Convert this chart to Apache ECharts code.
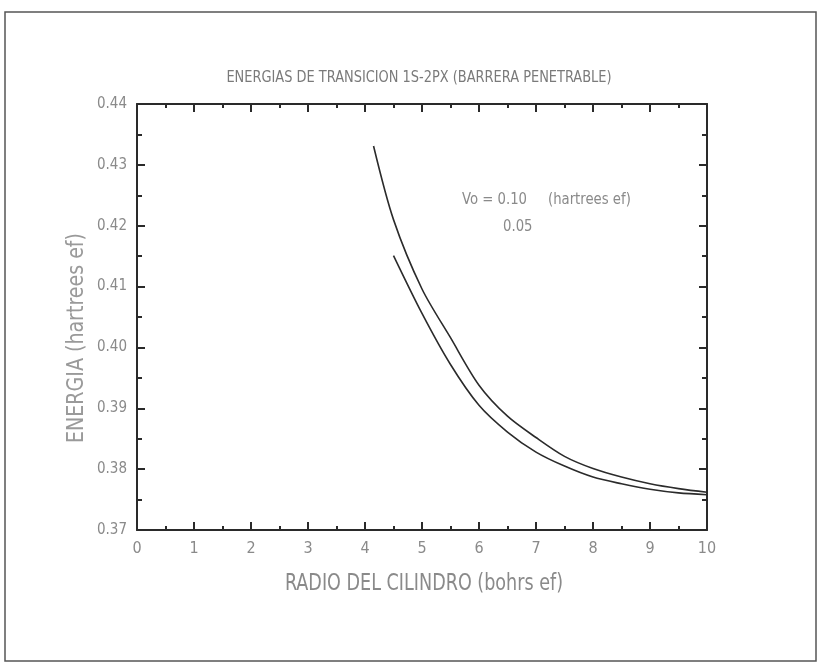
<!DOCTYPE html>
<html>
<head>
<meta charset="utf-8">
<script src="https://cdn.jsdelivr.net/npm/echarts@6/dist/echarts.min.js"></script>
<style>
  html, body { margin: 0; padding: 0; background: #fff; }
  #chart { width: 818px; height: 664px; }
</style>
</head>
<body>
<div id="chart"></div>
<script>
// radio del cilindro (bohrs ef) vs energia de transicion (hartrees ef)
var radioV010 = [4.15, 4.5, 5, 5.5, 6, 6.5, 7, 7.5, 8, 8.5, 9, 9.5, 10];
var energiaV010 = [0.4331, 0.4210, 0.4096, 0.4016, 0.3938, 0.3887, 0.3852, 0.3821, 0.3801, 0.3787, 0.3776, 0.3768, 0.3762];
var radioV005 = [4.5, 5, 5.5, 6, 6.5, 7, 7.5, 8, 8.5, 9, 9.5, 10];
var energiaV005 = [0.4151, 0.4056, 0.3972, 0.3905, 0.3861, 0.3828, 0.3805, 0.3787, 0.3776, 0.3767, 0.3761, 0.3758];

var FONT = "'Liberation Sans Narrow', 'DejaVu Sans Condensed', sans-serif";
var TXT = '#8a8a8a';
var AXIS = '#2a2a2a';

function pares(xs, ys) {
    var out = [];
    for (var i = 0; i < xs.length; i++) {
        out.push([xs[i], ys[i]]);
    }
    return out;
}

var myChart = echarts.init(document.getElementById('chart'));

// ejes con marcas hacia dentro en los cuatro lados
function ejeX(pos, labels) {
    return {
        type: 'value', position: pos, min: 0, max: 10, interval: 1,
        axisLine: { show: true, onZero: false, lineStyle: { color: AXIS, width: 2 } },
        axisTick: { show: true, inside: true, length: 8, lineStyle: { color: AXIS, width: 2 } },
        minorTick: { show: true, splitNumber: 2, length: 4, lineStyle: { color: AXIS, width: 2 } },
        splitLine: { show: false },
        axisLabel: { show: labels, margin: 11, color: TXT, fontSize: 16, fontFamily: FONT }
    };
}
function ejeY(pos, labels) {
    return {
        type: 'value', position: pos, min: 0.37, max: 0.44, interval: 0.01,
        axisLine: { show: true, onZero: false, lineStyle: { color: AXIS, width: 2 } },
        axisTick: { show: true, inside: true, length: 8, lineStyle: { color: AXIS, width: 2 } },
        minorTick: { show: true, splitNumber: 2, length: 5, lineStyle: { color: AXIS, width: 2 } },
        splitLine: { show: false },
        axisLabel: {
            show: labels, margin: 10, color: TXT, fontSize: 15, fontFamily: FONT,
            formatter: function (v) { return v.toFixed(2); }
        }
    };
}

// texto estrecho, como la fuente de trazo del original
function texto(str, x, y, size, color, align, extra) {
    var t = {
        type: 'text', x: x, y: y, silent: true,
        style: { text: str, fill: color, font: size + 'px ' + FONT,
                 textAlign: align, textVerticalAlign: 'middle' }
    };
    for (var k in extra) { t[k] = extra[k]; }
    return t;
}

var option = {
    animation: false,
    backgroundColor: '#fff',
    grid: { left: 137, right: 111, top: 104, bottom: 134 },
    xAxis: [ejeX('bottom', true), ejeX('top', false)],
    yAxis: [ejeY('left', true), ejeY('right', false)],
    graphic: [
        {
            type: 'rect', silent: true,
            shape: { x: 5, y: 12, width: 811, height: 649 },
            style: { fill: 'none', stroke: '#555', lineWidth: 1.5 }
        },
        texto('ENERGIAS DE TRANSICION 1S-2PX (BARRERA PENETRABLE)', 419, 78, 16, '#7a7a7a', 'center', { scaleX: 0.9 }),
        texto('RADIO DEL CILINDRO (bohrs ef)', 424, 584, 23, '#8a8a8a', 'center', { scaleX: 0.85 }),
        texto('ENERGIA (hartrees ef)', 77, 338, 23, '#9a9a9a', 'center', { rotation: Math.PI / 2, scaleX: 0.92 }),
        texto('Vo = 0.10', 462, 200, 16, TXT, 'left', { scaleX: 0.92 }),
        texto('(hartrees ef)', 548, 200, 16, TXT, 'left', { scaleX: 0.92 }),
        texto('0.05', 503, 227, 16, TXT, 'left', { scaleX: 0.92 })
    ],
    series: [
        {
            name: 'Vo = 0.10', type: 'line', data: pares(radioV010, energiaV010),
            showSymbol: false, smooth: 0.3,
            lineStyle: { color: '#2b2b2b', width: 1.6 }
        },
        {
            name: 'Vo = 0.05', type: 'line', data: pares(radioV005, energiaV005),
            showSymbol: false, smooth: 0.3,
            lineStyle: { color: '#2b2b2b', width: 1.6 }
        }
    ]
};

myChart.setOption(option);
</script>
</body>
</html>
